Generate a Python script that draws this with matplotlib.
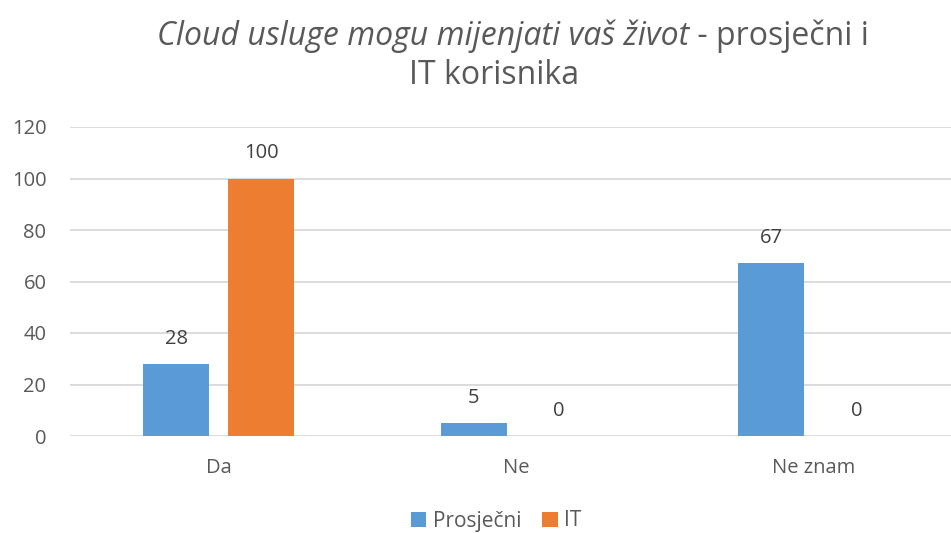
import matplotlib.pyplot as plt
import numpy as np

plt.rcParams['font.family'] = ['Open Sans', 'DejaVu Sans']

categories = ['Da', 'Ne', 'Ne znam']
prosjecni = [28, 5, 67]
it_users = [100, 0, 0]

blue = '#5b9bd5'
orange = '#ed7d31'
grey_text = '#595959'
grid_col = '#d9d9d9'

W, H = 951, 533
fig = plt.figure(figsize=(W / 100, H / 100), dpi=100)
ax = fig.add_axes([70 / W, (H - 436) / H, 892.5 / W, 309 / H])

x = np.arange(len(categories))
bw = 0.222
off = 0.143
b1 = ax.bar(x - off, prosjecni, bw, color=blue, label='Prosječni', zorder=3)
b2 = ax.bar(x + off, it_users, bw, color=orange, label='IT', zorder=3)

for bars, vals in ((b1, prosjecni), (b2, it_users)):
    for rect, v in zip(bars, vals):
        ax.annotate(str(v), (rect.get_x() + rect.get_width() / 2, v),
                    xytext=(0, 11), textcoords='offset points',
                    ha='center', va='bottom', fontsize=14.5, color='#404040')

ax.set_xlim(-0.5, 2.5)
ax.set_ylim(0, 120)
ax.set_yticks(range(0, 121, 20))
ax.set_xticks(x)
ax.set_xticklabels(categories)
ax.tick_params(axis='both', length=0, labelsize=14.5, colors=grey_text)
ax.tick_params(axis='y', pad=17)
ax.tick_params(axis='x', pad=16)
ax.grid(axis='y', color=grid_col, linewidth=1.3, zorder=0)
for s in ax.spines.values():
    s.set_visible(False)

# title: italic statement followed by regular text, centred line by line
fig.canvas.draw()
r = fig.canvas.get_renderer()
part1 = fig.text(0, 0, 'Cloud usluge mogu mijenjati vaš život', fontsize=23,
                 style='italic', color=grey_text, va='center')
part2 = fig.text(0, 0, ' - prosječni i', fontsize=23, color=grey_text, va='center')
w1 = part1.get_window_extent(r).width
w2 = part2.get_window_extent(r).width
x0 = 513 - (w1 + w2) / 2
y1 = 1 - 36 / H
part1.set_position((x0 / W, y1))
part2.set_position(((x0 + w1) / W, y1))
fig.text(494 / W, 1 - 76 / H, 'IT korisnika', fontsize=23, color=grey_text,
         ha='center', va='center')

fig.legend(loc='center', bbox_to_anchor=(496 / W, 1 - 521 / H), ncol=2,
           frameon=False, fontsize=15, handlelength=0.75, handleheight=0.75,
           handletextpad=0.3, columnspacing=1.0, labelcolor=grey_text)

fig.savefig('out.png', dpi=100)
